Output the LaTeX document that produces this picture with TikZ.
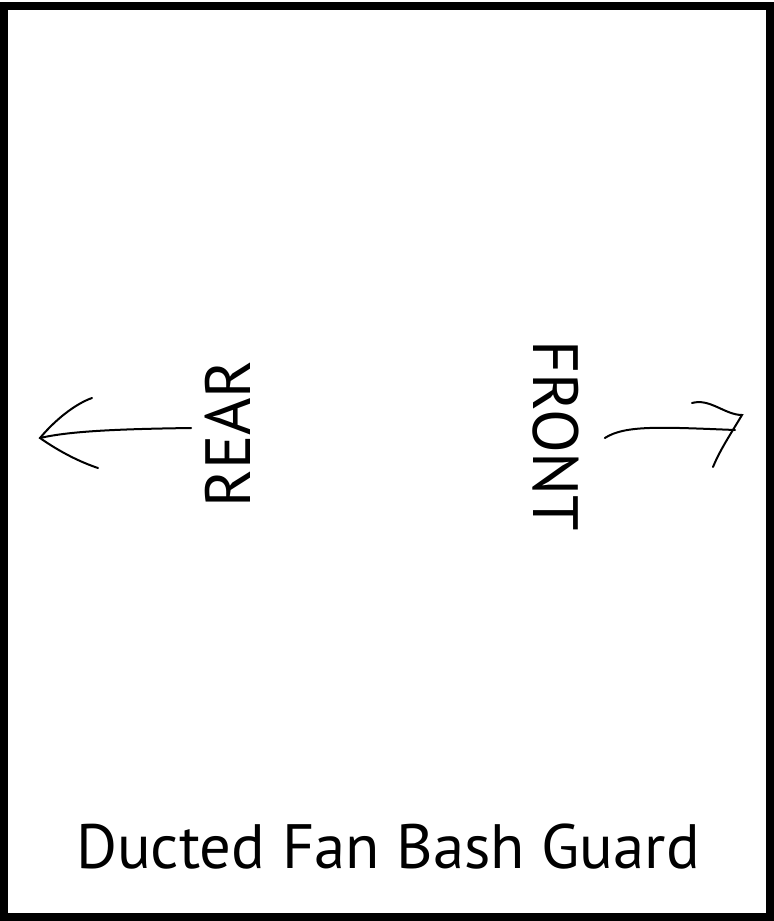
\documentclass[tikz,border=0pt]{standalone}
\usepackage{fontspec}
\setmainfont{PT Sans}
\usetikzlibrary{positioning}

\begin{document}
\begin{tikzpicture}[
    x=0.75pt, y=-0.75pt,
    line cap=round,
    frame/.style={draw, line width=6pt, line cap=butt, line join=miter},
    sidetext/.style={font=\fontsize{48}{56}\selectfont, inner sep=0pt, anchor=base},
    titletext/.style={font=\fontsize{47}{56}\selectfont, inner sep=0pt, anchor=base},
    sketch/.style={line width=1.5pt}
]

\useasboundingbox (0,0) rectangle (774,921);
\path[frame] (4,6) rectangle (770,917);

\node[sidetext, rotate=90] (rear) at (250,434) {REAR};
\node[sidetext, rotate=-90] (front) at (533,436) {FRONT};
\node[titletext] (title) at (388,868) {Ducted Fan Bash Guard};

% free ends of the two hand drawn arrows
\coordinate (reartip) at (40,438);
\coordinate (fronttip) at (742,415);

% rear arrow
\draw[sketch] ([shift={(-13,-6)}]rear.north) .. controls (120,429) and (70,431) .. (reartip);
\draw[sketch] (92,398) .. controls (75,404) and (55,420) .. (reartip)
    .. controls (60,452) and (80,462) .. (98,468);

% front arrow
\draw[sketch] ([shift={(26,2)}]front.north) .. controls (625,425) and (660,427) .. (735,430);
\draw[sketch] (692,403) .. controls (710,398) and (725,415) .. (fronttip)
    .. controls (730,435) and (720,450) .. (713,467);

\end{tikzpicture}
\end{document}
